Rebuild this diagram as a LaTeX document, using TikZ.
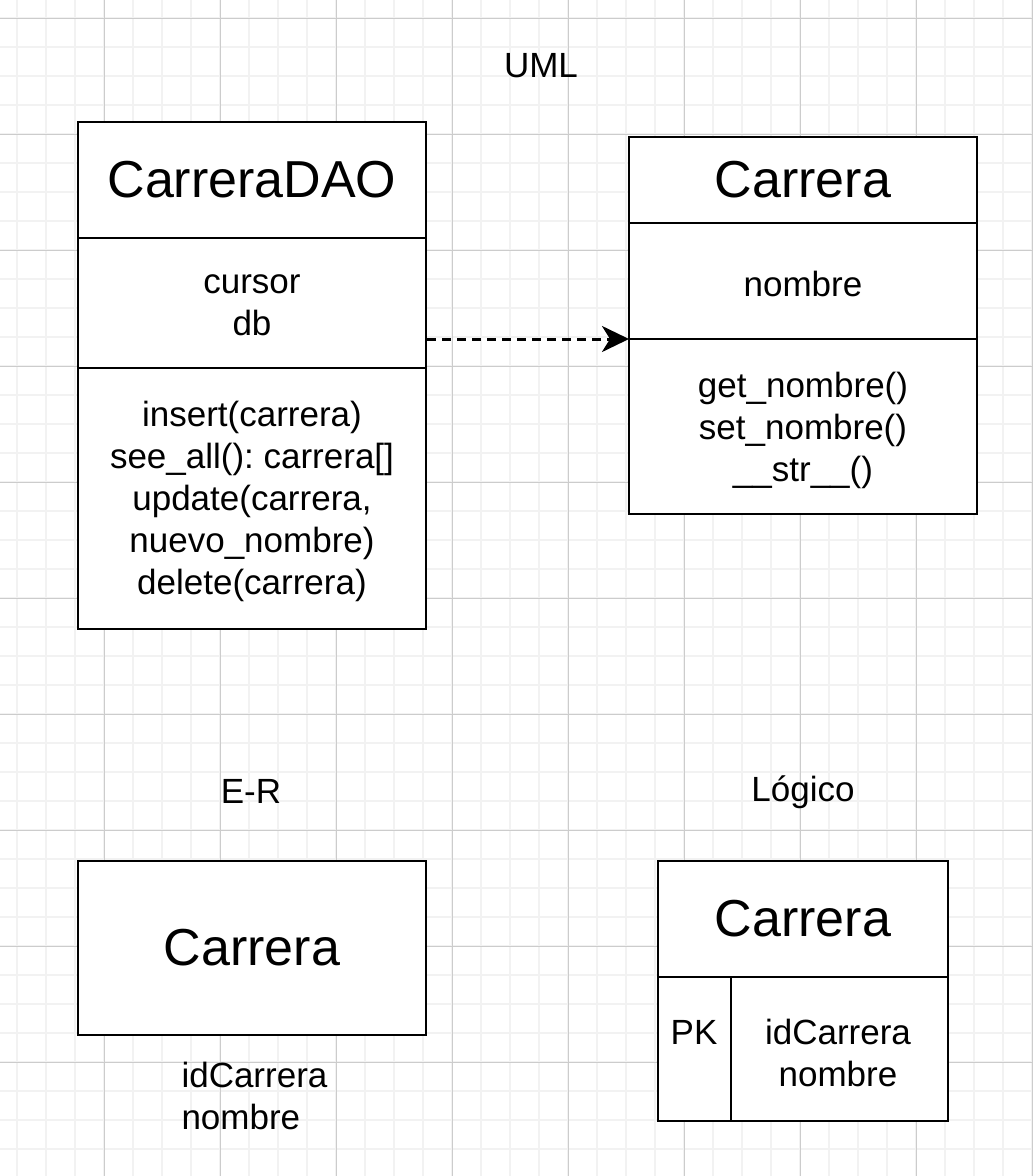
\documentclass[tikz,border=0pt]{standalone}
\usepackage{fontspec}
\setmainfont{Liberation Sans}
\usetikzlibrary{arrows.meta}
\frenchspacing

\tikzset{
  classbox/.style={draw, fill=white, line width=2.7pt, inner sep=0pt},
  divider/.style={line width=2.7pt},
  headtext/.style={font=\fontsize{52}{62}\selectfont, align=center},
  bodytext/.style={font=\fontsize{35}{42}\selectfont, align=center},
  depends/.style={line width=3pt, dash pattern=on 9pt off 6pt,
    -{Stealth[length=27pt, width=26pt, inset=8pt]}},
  minorgrid/.style={draw=black!5, line width=1.2pt},
  majorgrid/.style={draw=black!20, line width=0.8pt},
}

\begin{document}
\begin{tikzpicture}[x=1pt, y=-1pt]

\fill[white] (0,0) rectangle (1033,1176);
\useasboundingbox (0,0) rectangle (1033,1176);

% background grid
\draw[minorgrid, step=29pt, shift={(17,18)}] (-17,-18) grid (1016,1158);
\draw[majorgrid, step=116pt, shift={(-12,18)}] (12,-18) grid (1045,1158);

% titles
\node[bodytext] (umltitle) at (541,66) {UML};
\node[bodytext] (ertitle) at (251,791) {E-R};
\node[bodytext] (logtitle) at (803,792) {Lógico};

% CarreraDAO class
\node[classbox, minimum width=348pt, minimum height=507pt] (dao) at (252,375.5) {};
\draw[divider] (78,238) -- (426,238);
\draw[divider] (78,368) -- (426,368);
\node[headtext] (daoname) at (252,180) {CarreraDAO};
\node[bodytext] (daoattr) at (252,305) {cursor\\db};
\node[bodytext] (daoops) at (252,501) {insert(carrera)\\see\_all(): carrera[]\\update(carrera,\\nuevo\_nombre)\\delete(carrera)};

% Carrera class
\node[classbox, minimum width=348pt, minimum height=377pt] (carrera) at (803,325.5) {};
\draw[divider] (629,223) -- (977,223);
\draw[divider] (629,339) -- (977,339);
\coordinate (cardiv) at (629,339);
\node[headtext] (carname) at (803,180) {Carrera};
\node[bodytext] (carattr) at (803,284) {nombre};
\node[bodytext] (carops) at (803,430) {get\_nombre()\\set\_nombre()\\\_\_str\_\_()};

\draw[depends] (dao.east |- cardiv) -- (cardiv);

% E-R entity
\node[classbox, minimum width=348pt, minimum height=174pt] (entity) at (252,948) {};
\node[headtext] (entname) at (252,948) {Carrera};
\node[bodytext, align=left, anchor=west] (entattr) at (178,1096) {idCarrera\\nombre};

% logical table
\node[classbox, minimum width=290pt, minimum height=260pt] (table) at (803,991) {};
\draw[divider] (658,977) -- (948,977);
\draw[divider] (731,977) -- (731,1121);
\node[headtext] (tabname) at (803,919) {Carrera};
\node[bodytext] (tabkey) at (694,1032) {PK};
\node[bodytext] (tabcols) at (838,1053) {idCarrera\\nombre};

\end{tikzpicture}
\end{document}
